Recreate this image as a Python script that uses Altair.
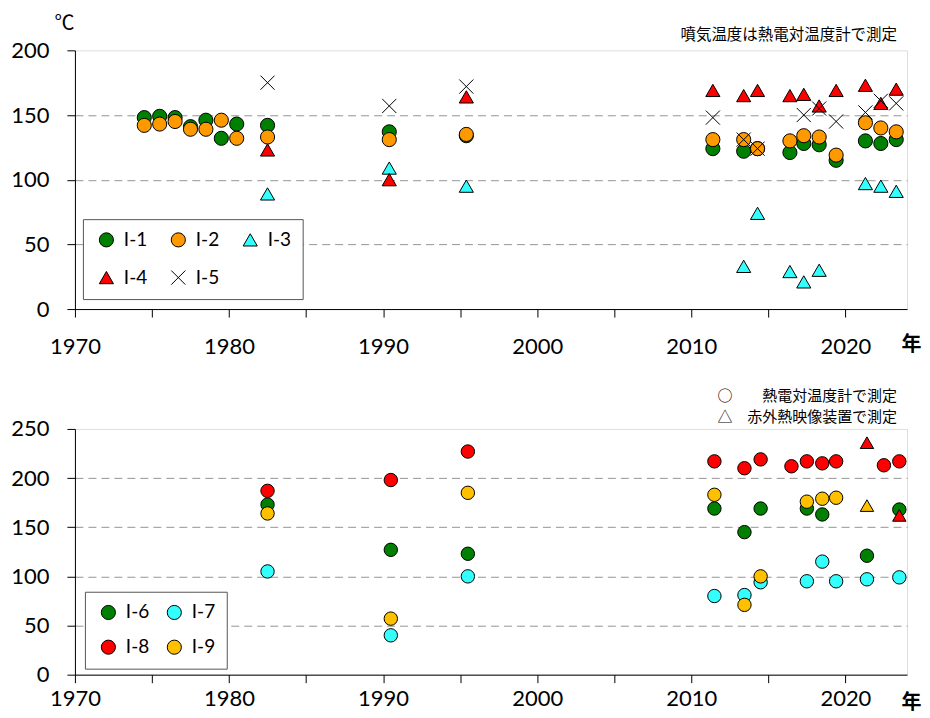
import altair as alt
import pandas as pd

# ---------------- top panel (I-1 .. I-5) ----------------
top_series = ["I-1", "I-2", "I-3", "I-4", "I-5"]
top_colors = ["#008000", "#FF9900", "#33FFFF", "#FF0000", "#000000"]
top_shapes = ["circle", "circle", "triangle-up", "triangle-up", "M-1,-1L1,1M-1,1L1,-1"]

i1_years = [1974.5, 1975.5, 1976.5, 1977.5, 1978.5, 1979.5, 1980.5, 1982.5, 1990.4, 1995.4,
            2011.4, 2013.4, 2014.3, 2016.4, 2017.3, 2018.3, 2019.4, 2021.3, 2022.3, 2023.3]
i1_vals = [148, 149, 148, 141, 146, 132, 143, 142, 137, 134,
           124, 122, 124, 121, 128, 127, 115, 130, 128, 131]

i2_years = i1_years
i2_vals = [142, 143, 145, 139, 139, 146, 132, 133, 131, 135,
           131, 131, 124, 130, 134, 133, 119, 144, 140, 137]

i3_years = [1982.5, 1990.4, 1995.4, 2013.4, 2014.3, 2016.4, 2017.3, 2018.3, 2021.3, 2022.3, 2023.3]
i3_vals = [89, 109, 95, 33, 74, 29, 21, 30, 97, 95, 91]

i4_years = [1982.5, 1990.4, 1995.4, 2011.4, 2013.4, 2014.3, 2016.4, 2017.3, 2018.3, 2019.4,
            2021.3, 2022.3, 2023.3]
i4_vals = [123, 100, 164, 169, 165, 169, 165, 166, 157, 169, 173, 159, 170]

i5_years = [1982.5, 1990.4, 1995.4, 2011.4, 2013.4, 2014.3, 2017.3, 2018.3, 2019.4,
            2021.3, 2022.3, 2023.3]
i5_vals = [175, 157, 172, 148, 131, 124, 150, 155, 145, 152, 161, 159]

# ---------------- bottom panel (I-6 .. I-9) ----------------
bot_series = ["I-6", "I-7", "I-8", "I-9"]
bot_colors = ["#008000", "#33FFFF", "#FF0000", "#FFC000"]
methods = ["熱電対", "赤外"]
method_shapes = ["circle", "triangle-up"]

i6_years = [1982.5, 1990.5, 1995.5, 2011.5, 2013.45, 2014.5, 2017.5, 2018.5, 2021.4, 2023.5]
i6_vals = [173, 127, 123, 169, 145, 169, 169, 163, 121, 168]
i6_meth = ["熱電対"] * 10

i7_years = [1982.5, 1990.5, 1995.5, 2011.5, 2013.45, 2014.5, 2017.5, 2018.5, 2019.4, 2021.4, 2023.5]
i7_vals = [105, 40, 100, 80, 81, 94, 95, 115, 95, 97, 99]
i7_meth = ["熱電対"] * 11

i8_years = [1982.5, 1990.5, 1995.5, 2011.5, 2013.45, 2014.5, 2016.5, 2017.5, 2018.5, 2019.4,
            2021.4, 2022.5, 2023.5, 2023.5]
i8_vals = [187, 198, 227, 217, 210, 219, 212, 217, 215, 217, 236, 213, 217, 162]
i8_meth = ["熱電対"] * 10 + ["赤外", "熱電対", "熱電対", "赤外"]

i9_years = [1982.5, 1990.5, 1995.5, 2011.5, 2013.45, 2014.5, 2017.5, 2018.5, 2019.4, 2021.4]
i9_vals = [164, 57, 185, 183, 71, 100, 176, 179, 180, 172]
i9_meth = ["熱電対"] * 9 + ["赤外"]

x_ticks = [1970, 1975, 1980, 1985, 1990, 1995, 2000, 2005, 2010, 2015, 2020]
top_y_ticks = [0, 50, 100, 150, 200]
bot_y_ticks = [0, 50, 100, 150, 200, 250]


def rows(name, ys, vs, ms=None):
    out = []
    for k, (yy, v) in enumerate(zip(ys, vs)):
        out.append({"series": name, "year": yy, "value": v,
                    "method": ms[k] if ms else "熱電対"})
    return out


top_df = pd.DataFrame(rows("I-1", i1_years, i1_vals) + rows("I-2", i2_years, i2_vals)
                      + rows("I-3", i3_years, i3_vals) + rows("I-4", i4_years, i4_vals)
                      + rows("I-5", i5_years, i5_vals))
bot_df = pd.DataFrame(rows("I-6", i6_years, i6_vals, i6_meth) + rows("I-7", i7_years, i7_vals, i7_meth)
                      + rows("I-8", i8_years, i8_vals, i8_meth) + rows("I-9", i9_years, i9_vals, i9_meth))

JP = "Noto Sans CJK JP"
NUM = "Lato"
W = 833


def x_axis(label_pad, title_y):
    return alt.Axis(values=x_ticks, labelExpr="datum.value % 10 == 0 ? datum.value : ''",
                    grid=False, tickSize=8, tickColor="black", domainColor="black",
                    labelPadding=label_pad, labelFont=NUM, labelFontSize=22, labelColor="black",
                    labelFlush=False, labelOverlap=False, labelBound=False,
                    title="年", titleFont=JP, titleFontSize=20, titleFontWeight="bold",
                    titleColor="black", titleAngle=0, titleX=837, titleY=title_y,
                    titleAlign="center", titleBaseline="middle")


def y_axis(ticks, top, title):
    if title:
        kw = dict(title=title, titleFont=JP, titleFontSize=20, titleFontWeight="normal",
                  titleColor="black", titleAngle=0, titleX=-11, titleY=-27,
                  titleAlign="center", titleBaseline="middle")
    else:
        kw = dict(title=None)
    return alt.Axis(values=ticks, grid=True, gridColor="#959595", gridDash=[8, 5], gridWidth=1,
                    gridOpacity={"condition": {"test": f"datum.value == 0 || datum.value == {top}",
                                               "value": 0}, "value": 1},
                    tickSize=8, tickColor="black", domainColor="black",
                    labelPadding=18, labelFont=NUM, labelFontSize=22, labelColor="black",
                    labelOverlap=False, **kw)


def legend(cols, lx, ly, row_pad, col_pad):
    return alt.Legend(title=None, orient="none", legendX=lx, legendY=ly, columns=cols,
                      direction="horizontal",
                      labelFont=NUM, labelFontSize=19, labelColor="black",
                      symbolSize=200, symbolStrokeWidth=1,
                      symbolOffset=3, labelOffset=8, padding=11, rowPadding=row_pad,
                      columnPadding=col_pad, strokeColor="#555555", fillColor="white")


top_leg = legend(3, 8, 169, 18, 18)
top = alt.Chart(top_df).mark_point(filled=True, strokeWidth=1, size=200, opacity=1).encode(
    x=alt.X("year:Q", scale=alt.Scale(domain=[1970, 2024], nice=False, zero=False), axis=x_axis(19, 35)),
    y=alt.Y("value:Q", scale=alt.Scale(domain=[0, 200], nice=False), axis=y_axis(top_y_ticks, 200, "℃")),
    fill=alt.Fill("series:N", scale=alt.Scale(domain=top_series, range=top_colors), legend=top_leg),
    shape=alt.Shape("series:N", scale=alt.Scale(domain=top_series, range=top_shapes), legend=top_leg),
    stroke=alt.Stroke("series:N", scale=alt.Scale(domain=top_series, range=["#000000"] * 5), legend=top_leg),
).properties(
    width=W, height=259,
    title=alt.TitleParams("噴気温度は熱電対温度計で測定", anchor="end", frame="group",
                          font=JP, fontSize=15.5, fontWeight="normal", color="black", dx=-10, dy=34)
)

bot_leg = legend(2, 10, 163, 15, 12)
bot = alt.Chart(bot_df).mark_point(filled=True, strokeWidth=1, size=180, opacity=1).encode(
    x=alt.X("year:Q", scale=alt.Scale(domain=[1970, 2024], nice=False, zero=False), axis=x_axis(6, 28)),
    y=alt.Y("value:Q", scale=alt.Scale(domain=[0, 250], nice=False), axis=y_axis(bot_y_ticks, 250, None)),
    fill=alt.Fill("series:N", scale=alt.Scale(domain=bot_series, range=bot_colors), legend=bot_leg),
    stroke=alt.Stroke("series:N", scale=alt.Scale(domain=bot_series, range=["#000000"] * 4), legend=bot_leg),
    shape=alt.Shape("method:N", scale=alt.Scale(domain=methods, range=method_shapes), legend=None),
).properties(
    width=W, height=246,
    title=alt.TitleParams(["○　　熱電対温度計で測定", "△　赤外熱映像装置で測定"], anchor="end",
                          frame="group", font=JP, fontSize=15, fontWeight="normal",
                          color="black", dx=-10, dy=11, lineHeight=21)
)

chart = alt.vconcat(top, bot, spacing=30).resolve_scale(
    fill="independent", shape="independent", stroke="independent"
).properties(
    padding={"left": 2, "top": 4, "right": 0, "bottom": 0}
).configure_view(stroke="black", strokeWidth=1).configure(background="white")

chart.save("out.html", embed_options={"renderer": "svg", "actions": False})
